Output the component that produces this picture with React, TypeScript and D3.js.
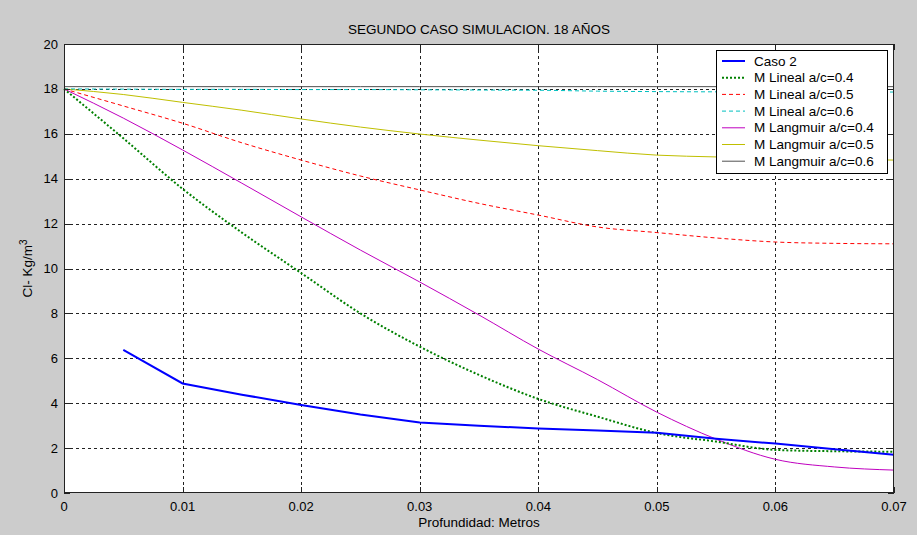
import React from "react";
import * as d3 from "d3";

// Depth (m) and chloride concentration (kg/m3) per profile
const depthCaso = [0.005, 0.01, 0.015, 0.02, 0.025, 0.03, 0.035, 0.04, 0.045, 0.05, 0.055, 0.06, 0.065, 0.07];
const caso2 = [6.37, 4.88, 4.38, 3.92, 3.5, 3.14, 3.0, 2.87, 2.78, 2.68, 2.42, 2.2, 1.95, 1.7];

const depth = [0, 0.005, 0.01, 0.015, 0.02, 0.025, 0.03, 0.035, 0.04, 0.045, 0.05, 0.055, 0.06, 0.065, 0.07];
const lineal04 = [18.0, 15.8, 13.55, 11.6, 9.8, 8.0, 6.52, 5.26, 4.19, 3.4, 2.67, 2.29, 1.92, 1.86, 1.84];
const lineal05 = [18.0, 17.24, 16.47, 15.6, 14.83, 14.12, 13.5, 12.9, 12.38, 11.85, 11.6, 11.36, 11.18, 11.12, 11.1];
const lineal06 = [18.0, 17.99, 17.98, 17.98, 17.97, 17.97, 17.96, 17.95, 17.94, 17.9, 17.88, 17.87, 17.87, 17.86, 17.86];
const langmuir04 = [18.0, 16.7, 15.28, 13.8, 12.3, 10.82, 9.4, 7.93, 6.41, 5.05, 3.6, 2.4, 1.5, 1.16, 1.02];
const langmuir05 = [18.0, 17.75, 17.4, 17.05, 16.66, 16.3, 15.99, 15.72, 15.47, 15.25, 15.05, 14.97, 14.9, 14.86, 14.83];
const langmuir06 = [18.1, 18.1, 18.1, 18.1, 18.1, 18.1, 18.1, 18.1, 18.1, 18.1, 18.1, 18.1, 18.1, 18.1, 18.1];

const xTicks = [0, 0.01, 0.02, 0.03, 0.04, 0.05, 0.06, 0.07];
const xTickLabels = ["0", "0.01", "0.02", "0.03", "0.04", "0.05", "0.06", "0.07"];
const yTicks = [0, 2, 4, 6, 8, 10, 12, 14, 16, 18, 20];

const seriesNames = [
  "Caso 2",
  "M Lineal a/c=0.4",
  "M Lineal a/c=0.5",
  "M Lineal a/c=0.6",
  "M Langmuir a/c=0.4",
  "M Langmuir a/c=0.5",
  "M Langmuir a/c=0.6",
];

const W = 917;
const H = 535;
const M = { left: 64, right: 894, top: 44, bottom: 493 };
const FONT = "'Liberation Sans', Arial, sans-serif";

type Series = {
  name: string;
  xs: number[];
  ys: number[];
  color: string;
  width: number;
  dash?: string;
  smooth: boolean;
};

export default function App() {
  const x = d3.scaleLinear().domain([0, 0.07]).range([M.left, M.right]);
  const y = d3.scaleLinear().domain([0, 20]).range([M.bottom, M.top]);

  const series: Series[] = [
    { name: seriesNames[0], xs: depthCaso, ys: caso2, color: "#0000ff", width: 2, smooth: false },
    { name: seriesNames[1], xs: depth, ys: lineal04, color: "#008000", width: 2, dash: "2,2", smooth: true },
    { name: seriesNames[2], xs: depth, ys: lineal05, color: "#ff0000", width: 1, dash: "4,3", smooth: true },
    { name: seriesNames[3], xs: depth, ys: lineal06, color: "#00bfbf", width: 1, dash: "4,3", smooth: true },
    { name: seriesNames[4], xs: depth, ys: langmuir04, color: "#bf00bf", width: 1, smooth: true },
    { name: seriesNames[5], xs: depth, ys: langmuir05, color: "#bfbf00", width: 1, smooth: true },
    { name: seriesNames[6], xs: depth, ys: langmuir06, color: "#505050", width: 1, smooth: true },
  ];

  const lineGen = (s: Series) =>
    d3
      .line<number>()
      .x((_, i) => x(s.xs[i]))
      .y((d) => y(d))
      .curve(s.smooth ? d3.curveMonotoneX : d3.curveLinear)(s.ys) || "";

  const drawOrder = [6, 5, 4, 3, 2, 1, 0];

  const legX = 716;
  const legY = 50;
  const legW = 171;
  const legH = 123;
  const rowH = 16.7;

  return (
    <div style={{ position: "fixed", left: 0, top: 0 }}>
      <svg width={W} height={H} style={{ display: "block" }} fontFamily={FONT}>
        <rect x={0} y={0} width={W} height={H} fill="#cccccc" />
        <rect
          x={M.left}
          y={M.top}
          width={M.right - M.left}
          height={M.bottom - M.top}
          fill="#ffffff"
        />
        {/* grid */}
        {xTicks.slice(1, -1).map((t) => (
          <line
            key={"gx" + t}
            x1={Math.round(x(t)) + 0.5}
            x2={Math.round(x(t)) + 0.5}
            y1={M.top}
            y2={M.bottom}
            stroke="#222"
            strokeDasharray="3,3"
          />
        ))}
        {yTicks.slice(1, -1).map((t) => (
          <line
            key={"gy" + t}
            y1={Math.round(y(t)) + 0.5}
            y2={Math.round(y(t)) + 0.5}
            x1={M.left}
            x2={M.right}
            stroke="#222"
            strokeDasharray="3,3"
          />
        ))}
        {/* series */}
        {drawOrder.map((i) => {
          const s = series[i];
          return (
            <path
              key={s.name}
              d={lineGen(s)}
              fill="none"
              stroke={s.color}
              strokeWidth={s.width}
              strokeDasharray={s.dash}
            />
          );
        })}
        {/* axes box and ticks */}
        <rect
          x={M.left + 0.5}
          y={M.top + 0.5}
          width={M.right - M.left - 1}
          height={M.bottom - M.top - 1}
          fill="none"
          stroke="#222"
        />
        {xTicks.map((t) => (
          <g key={"tx" + t}>
            <line x1={Math.round(x(t)) + 0.5} x2={Math.round(x(t)) + 0.5} y1={M.bottom} y2={M.bottom - 6} stroke="#222" />
            <line x1={Math.round(x(t)) + 0.5} x2={Math.round(x(t)) + 0.5} y1={M.top} y2={M.top + 6} stroke="#222" />
          </g>
        ))}
        {yTicks.map((t) => (
          <g key={"ty" + t}>
            <line y1={Math.round(y(t)) + 0.5} y2={Math.round(y(t)) + 0.5} x1={M.left} x2={M.left + 6} stroke="#222" />
            <line y1={Math.round(y(t)) + 0.5} y2={Math.round(y(t)) + 0.5} x1={M.right} x2={M.right - 6} stroke="#222" />
          </g>
        ))}
        {/* tick labels */}
        {xTicks.map((t, i) => (
          <text key={"lx" + t} x={x(t)} y={511} fontSize={13} textAnchor="middle" fill="#000">
            {xTickLabels[i]}
          </text>
        ))}
        {yTicks.map((t) => (
          <text key={"ly" + t} x={58} y={y(t) + 4.5} fontSize={13} textAnchor="end" fill="#000">
            {t}
          </text>
        ))}
        {/* titles */}
        <text x={(M.left + M.right) / 2} y={34} fontSize={13.5} textAnchor="middle" fill="#000">
          SEGUNDO CASO SIMULACION. 18 AÑOS
        </text>
        <text x={(M.left + M.right) / 2} y={527} fontSize={13.5} textAnchor="middle" fill="#000">
          Profundidad: Metros
        </text>
        <text
          transform={`translate(32, ${(M.top + M.bottom) / 2}) rotate(-90)`}
          fontSize={13.5}
          textAnchor="middle"
          fill="#000"
        >
          Cl- Kg/m<tspan dy={-5} fontSize={10}>3</tspan>
        </text>
        {/* legend */}
        <rect x={legX + 0.5} y={legY + 0.5} width={legW} height={legH} fill="#fff" stroke="#000" />
        {series.map((s, i) => {
          const cy = legY + 11 + i * rowH;
          return (
            <g key={"leg" + s.name}>
              <line
                x1={722}
                x2={745}
                y1={cy}
                y2={cy}
                stroke={s.color}
                strokeWidth={s.width}
                strokeDasharray={s.dash}
              />
              <text x={754} y={cy + 4.5} fontSize={13.5} fill="#000">
                {s.name}
              </text>
            </g>
          );
        })}
      </svg>
    </div>
  );
}
